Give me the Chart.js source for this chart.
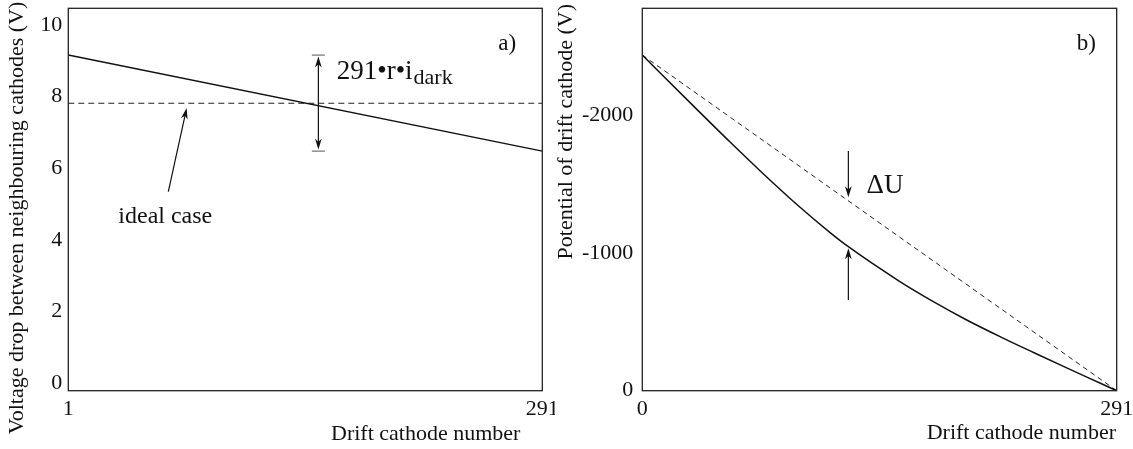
<!DOCTYPE html>
<html>
<head>
<meta charset="utf-8">
<script src="https://cdn.jsdelivr.net/npm/chart.js@4.4.1/dist/chart.umd.min.js"></script>
<style>
  html, body { margin: 0; padding: 0; background: #fff; }
  #wrap { position: relative; width: 1133px; height: 449px; overflow: hidden; }
  #chartA { position: absolute; left: 0; top: 0; }
  #chartB { position: absolute; left: 555px; top: 0; }
</style>
</head>
<body>
<div id="wrap">
  <canvas id="chartA" width="555" height="449"></canvas>
  <canvas id="chartB" width="578" height="449"></canvas>
</div>
<script>
// panel a) voltage drop between neighbouring cathodes
const dropCathode = [1, 291];
const dropActual = [9.16, 6.48];
const dropIdeal = [7.815, 7.815];
const dropTicks = [0, 2, 4, 6, 8, 10];
const cathodeTicksA = [1, 291];

// panel b) potential of drift cathode
const potCathode = [0, 33, 54, 74, 95, 115, 126, 158, 178, 199, 220, 240, 260, 281, 291];
const potActual = [-2435, -2046, -1802, -1576, -1349, -1149, -1048, -792, -650, -513, -389, -277, -167, -54, 0];
const potIdealCathode = [0, 291];
const potIdeal = [-2435, 0];
const potTicks = [-2000, -1000, 0];
const cathodeTicksB = [0, 291];

const FONT = "'Liberation Serif', 'Times New Roman', serif";
const INK = '#111';

function pts(xs, ys) {
  return xs.map((x, i) => ({ x, y: ys[i] }));
}

function arrow(ctx, x1, y1, x2, y2) {
  const ang = Math.atan2(y2 - y1, x2 - x1);
  const len = 11, half = 3.4;
  const c = Math.cos(ang), s = Math.sin(ang);
  ctx.beginPath();
  ctx.moveTo(x1, y1);
  ctx.lineTo(x2 - c * len * 0.6, y2 - s * len * 0.6);
  ctx.stroke();
  ctx.beginPath();
  ctx.moveTo(x2, y2);
  ctx.lineTo(x2 - c * len - s * half, y2 - s * len + c * half);
  ctx.lineTo(x2 - c * len * 0.7, y2 - s * len * 0.7);
  ctx.lineTo(x2 - c * len + s * half, y2 - s * len - c * half);
  ctx.closePath();
  ctx.fill();
}

function text(ctx, str, px, py, size, align) {
  ctx.font = `${size}px ${FONT}`;
  ctx.textAlign = align || 'left';
  ctx.textBaseline = 'alphabetic';
  ctx.fillText(str, px, py);
}

function vtext(ctx, str, cx, cy, size) {
  ctx.save();
  ctx.translate(cx, cy);
  ctx.rotate(-Math.PI / 2);
  ctx.font = `${size}px ${FONT}`;
  ctx.textAlign = 'center';
  ctx.textBaseline = 'middle';
  ctx.fillText(str, 0, 0);
  ctx.restore();
}

function frame(chart) {
  const { ctx, chartArea: a } = chart;
  ctx.save();
  ctx.strokeStyle = '#222';
  ctx.lineWidth = 1.3;
  ctx.strokeRect(a.left, a.top, a.right - a.left, a.bottom - a.top);
  ctx.restore();
}

function axisOpts(min, max, ticks, fitW, fitH, pad, reverse) {
  return {
    type: 'linear',
    min, max, reverse: !!reverse,
    grid: { display: false, drawTicks: false },
    border: { display: false },
    afterBuildTicks: s => { s.ticks = ticks.map(v => ({ value: v })); },
    afterFit: s => {
      if (fitW) s.width = fitW;
      if (fitH) s.height = fitH;
      s.paddingLeft = 0; s.paddingRight = 0; s.paddingTop = 0; s.paddingBottom = 0;
    },
    ticks: {
      color: INK,
      padding: pad,
      font: { family: FONT, size: 22 },
      maxRotation: 0,
      autoSkip: false,
      callback: v => String(v)
    }
  };
}

const panelA = {
  id: 'panelA',
  afterDraw(chart) {
    const { ctx, scales: { x, y } } = chart;
    frame(chart);
    ctx.save();
    ctx.fillStyle = INK;
    ctx.strokeStyle = INK;

    // error bar showing 291·r·i_dark
    const ex = x.getPixelForValue(154);
    const yt = y.getPixelForValue(dropActual[0]);
    const yb = y.getPixelForValue(dropActual[1]);
    const ym = (yt + yb) / 2;
    ctx.lineWidth = 1.2;
    arrow(ctx, ex, ym, ex, yt + 1.5);
    arrow(ctx, ex, ym, ex, yb - 1.5);
    ctx.strokeStyle = '#555';
    ctx.lineWidth = 1;
    ctx.beginPath();
    ctx.moveTo(ex - 6.5, yt); ctx.lineTo(ex + 6.5, yt);
    ctx.moveTo(ex - 6.5, yb); ctx.lineTo(ex + 6.5, yb);
    ctx.stroke();

    // ideal case arrow
    ctx.strokeStyle = INK;
    ctx.lineWidth = 1.2;
    arrow(ctx, x.getPixelForValue(62.2), y.getPixelForValue(5.35),
      x.getPixelForValue(73.4), y.getPixelForValue(7.68));

    text(ctx, 'ideal case', x.getPixelForValue(31.6), y.getPixelForValue(4.47), 24);
    text(ctx, 'a)', x.getPixelForValue(264), y.getPixelForValue(9.3), 23);

    const lx = x.getPixelForValue(165.2), ly = y.getPixelForValue(8.49);
    text(ctx, '291\u2022r\u2022i', lx, ly, 27);
    const w = ctx.measureText('291\u2022r\u2022i').width;
    text(ctx, 'dark', lx + w + 1, ly + 5, 22);

    // axis titles
    vtext(ctx, 'Voltage drop between neighbouring cathodes (V)', 17.5, 218, 22);
    text(ctx, 'Drift cathode number', 331, 440, 22);
    ctx.restore();
  }
};

const panelB = {
  id: 'panelB',
  afterDraw(chart) {
    const { ctx, scales: { x, y } } = chart;
    frame(chart);
    ctx.save();
    ctx.fillStyle = INK;
    ctx.strokeStyle = INK;
    ctx.lineWidth = 1.2;

    // delta U arrows
    const ax = x.getPixelForValue(126.4);
    arrow(ctx, ax, y.getPixelForValue(-1739), ax, y.getPixelForValue(-1403));
    arrow(ctx, ax, y.getPixelForValue(-658), ax, y.getPixelForValue(-1033));

    text(ctx, '\u0394U', x.getPixelForValue(137.6), y.getPixelForValue(-1436), 27);
    text(ctx, 'b)', x.getPixelForValue(266.5), y.getPixelForValue(-2471), 23);

    vtext(ctx, 'Potential of drift cathode (V)', 11.7, 131.7, 22);
    text(ctx, 'Drift cathode number', 371.7, 439, 22);
    ctx.restore();
  }
};

new Chart(document.getElementById('chartA'), {
  type: 'line',
  data: {
    datasets: [{
      data: pts(dropCathode, dropActual),
      borderColor: INK,
      borderWidth: 1.5,
      pointRadius: 0,
      fill: false
    }, {
      data: pts(dropCathode, dropIdeal),
      borderColor: '#222',
      borderWidth: 1.1,
      borderDash: [6, 4],
      pointRadius: 0,
      fill: false
    }]
  },
  options: {
    responsive: false,
    animation: false,
    layout: { padding: { left: 0, right: 12.7, top: 8.3, bottom: 0 } },
    plugins: { legend: { display: false }, tooltip: { enabled: false } },
    scales: {
      x: axisOpts(1, 291, cathodeTicksA, null, 58.3, 5),
      y: axisOpts(-0.207, 10.466, dropTicks, 68.3, null, 6)
    }
  },
  plugins: [panelA]
});

new Chart(document.getElementById('chartB'), {
  type: 'line',
  data: {
    datasets: [{
      data: pts(potCathode, potActual),
      borderColor: INK,
      borderWidth: 1.5,
      pointRadius: 0,
      cubicInterpolationMode: 'monotone',
      fill: false
    }, {
      data: pts(potIdealCathode, potIdeal),
      borderColor: '#222',
      borderWidth: 1,
      borderDash: [5, 4],
      pointRadius: 0,
      fill: false
    }]
  },
  options: {
    responsive: false,
    animation: false,
    layout: { padding: { left: 0, right: 16.3, top: 8.3, bottom: 0 } },
    plugins: { legend: { display: false }, tooltip: { enabled: false } },
    scales: {
      x: axisOpts(0, 291, cathodeTicksB, null, 58.3, 5),
      y: axisOpts(-2774, 0, potTicks, 87.3, null, 9, true)
    }
  },
  plugins: [panelB]
});
</script>
</body>
</html>
